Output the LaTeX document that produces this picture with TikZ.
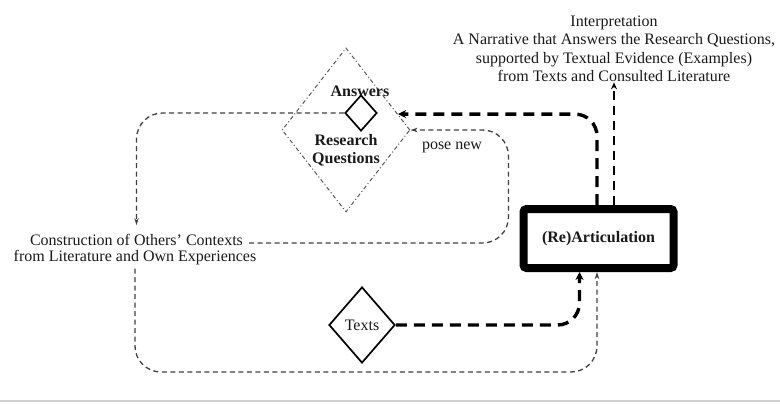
\documentclass[tikz,border=0pt]{standalone}
\usepackage{fontspec}
\setmainfont{Liberation Serif}
\usetikzlibrary{shapes.geometric,arrows.meta,calc}
\begin{document}
\begin{tikzpicture}[x=1pt,y=-1pt,
  lbl/.style={font=\fontsize{16}{18.5}\selectfont, text=black!90, inner sep=3pt, align=center},
  lblb/.style={lbl, font=\fontsize{16}{18.5}\selectfont\bfseries},
  thindash/.style={draw=black!75, line width=1.3pt, dash pattern=on 5pt off 3.5pt, rounded corners=26pt,
    -{Stealth[length=7pt,width=4.5pt]}},
  thickdash/.style={draw=black, line width=3.4pt, dash pattern=on 11pt off 7pt, rounded corners=22pt,
    -{Stealth[length=8pt,width=8pt]}},
  meddash/.style={draw=black, line width=2.2pt, dash pattern=on 9pt off 6pt,
    -{Stealth[length=7pt,width=6pt]}},
  smalldia/.style={diamond, draw=black, line width=1.7pt, inner sep=0pt}
]
\useasboundingbox (0,0) rectangle (780,404);
% faint rule at the bottom
\draw[black!18, line width=1.5pt] (0,401) -- (780,401);

% large dash-dot diamond (Research Questions)
\node[diamond, draw=black!65, line width=1pt, dash pattern=on 4pt off 2.5pt on 1pt off 2.5pt,
      minimum width=128pt, minimum height=164pt, inner sep=0pt] (rq) at (346,130) {};
\node[smalldia, minimum width=32pt, minimum height=36pt] (ans) at (361,113) {};
\node[lblb] (anst) at (360,91) {Answers};
\node[lblb] (rqt) at (346,150) {Research\\Questions};

% Texts diamond
\node[smalldia, minimum width=66pt, minimum height=76pt, font=\fontsize{16}{18.5}\selectfont, text=black!90] (texts) at (362,325) {Texts};

% (Re)Articulation box
\node[draw=black, line width=8pt, rounded corners=3pt, minimum width=150pt, minimum height=59pt,
      inner sep=0pt, font=\fontsize{16}{18.5}\selectfont\bfseries, text=black!90] (art) at (598.5,238.5) {(Re)Articulation};

% Interpretation text
\node[lbl, inner sep=0pt] (interp) at (614,49) {Interpretation\\A Narrative that Answers the Research Questions,\\supported by Textual Evidence (Examples)\\from Texts and Consulted Literature};

% Construction text
\node[lbl] (con1) at (136.5,240) {Construction of Others' Contexts};
\node[lbl] (con2) at (135,258) {from Literature and Own Experiences};

% pose new label
\node[lbl, inner sep=0pt] (pose) at (452,147) {pose new};

% connectors
\draw[thindash, shorten >=6pt] (ans.west) -| (con1.north);
\draw[thindash] ([yshift=-3pt,xshift=3pt]con1.east) -| ([xshift=98pt]rq.east) -- (rq.east);
\draw[thindash] (con2.south) |- ([xshift=-1.5pt,yshift=-100pt]art.south) -- ([xshift=-1.5pt]art.south);
\draw[thickdash] ([xshift=-1.5pt]art.north) |- (rq.17);
\draw[thickdash] (texts.east) -| ([xshift=-19pt]art.south);
\draw[meddash] (art.north -| interp.south) -- (interp.south);
\end{tikzpicture}
\end{document}
